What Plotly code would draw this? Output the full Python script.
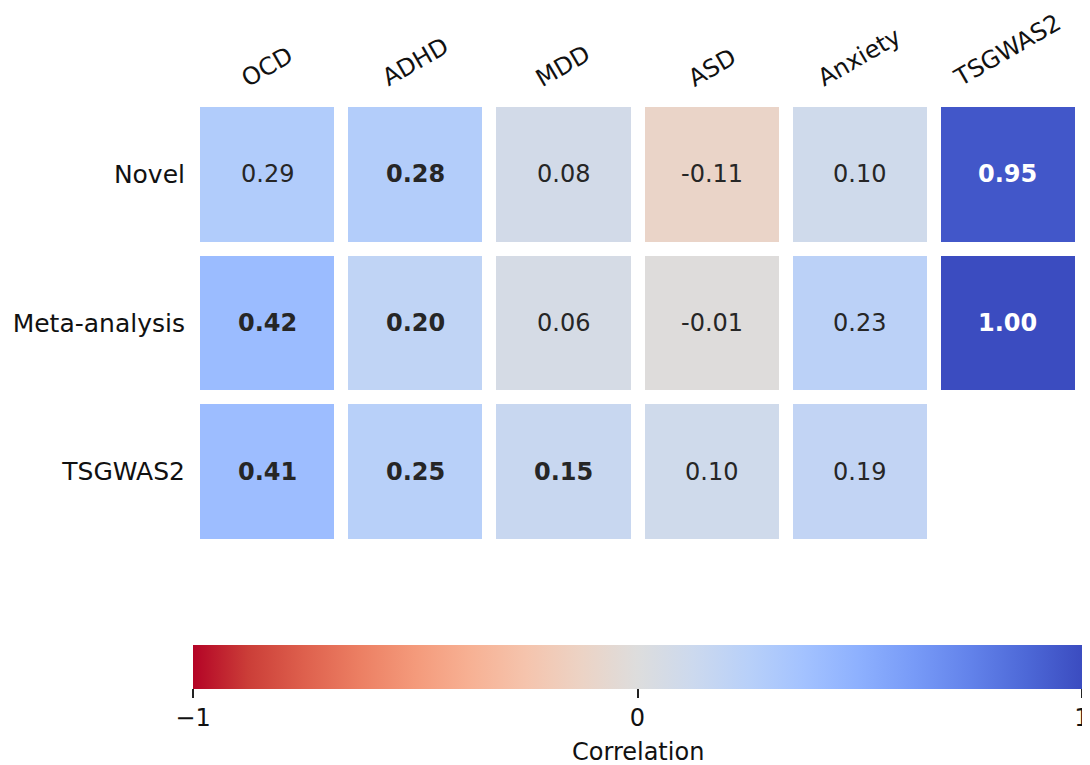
import plotly.graph_objects as go

# data
traits = ["OCD", "ADHD", "MDD", "ASD", "Anxiety", "TSGWAS2"]
sources = ["Novel", "Meta-analysis", "TSGWAS2"]
novel = [0.29, 0.28, 0.08, -0.11, 0.10, 0.95]
meta = [0.42, 0.20, 0.06, -0.01, 0.23, 1.00]
tsgwas2 = [0.41, 0.25, 0.15, 0.10, 0.19, None]
# which cells are significant (printed in bold)
novel_sig = [False, True, False, False, False, True]
meta_sig = [True, True, False, False, False, True]
tsgwas2_sig = [True, True, True, False, False, False]

z = [novel, meta, tsgwas2]
sig = [novel_sig, meta_sig, tsgwas2_sig]

# matplotlib coolwarm, reversed (-1 red -> 1 blue)
coolwarm = [
    (59, 76, 192), (77, 104, 215), (98, 130, 234), (119, 154, 247),
    (141, 176, 254), (163, 194, 255), (184, 208, 249), (204, 217, 238),
    (221, 221, 221), (236, 211, 197), (245, 196, 173), (247, 177, 148),
    (244, 154, 123), (236, 127, 99), (222, 96, 77), (203, 62, 56),
    (180, 4, 38),
]
n = len(coolwarm) - 1
cscale = [[1 - i / n, "rgb(%d,%d,%d)" % c] for i, c in enumerate(coolwarm)][::-1]

FONT = "DejaVu Sans"

heat = go.Heatmap(
    z=z, x=traits, y=sources,
    zmin=-1, zmax=1,
    colorscale=cscale,
    xgap=14, ygap=14,
    hoverongaps=False,
    colorbar=dict(
        orientation="h",
        x=0, xanchor="left", xpad=0,
        y=-0.222, yanchor="top", ypad=0,
        len=1, lenmode="fraction",
        thickness=44,
        outlinewidth=0,
        ticks="outside", ticklen=9, tickwidth=2, tickcolor="#222",
        tickvals=[-1, 0, 1], ticktext=["\u22121", "0", "1"],
        tickfont=dict(family=FONT, size=24, color="#111"),
    ),
)

fig = go.Figure(heat)

annotations = []
for r, row in enumerate(z):
    for c, v in enumerate(row):
        if v is None:
            continue
        txt = "%.2f" % v
        if sig[r][c]:
            txt = "<b>" + txt + "</b>"
        annotations.append(dict(
            x=traits[c], y=sources[r], text=txt, showarrow=False,
            font=dict(family=FONT, size=24, color="white" if v > 0.8 else "#262626"),
        ))

for t in traits:
    annotations.append(dict(
        x=t, y=1, xref="x", yref="paper", text=t, showarrow=False,
        textangle=-30, xanchor="center", yanchor="bottom", yshift=5,
        font=dict(family=FONT, size=24, color="#111"),
    ))

# colorbar title
annotations.append(dict(
    x=0.5, y=-0.462, xref="paper", yref="paper", text="Correlation",
    showarrow=False, xanchor="center", yanchor="middle",
    font=dict(family=FONT, size=24, color="#111"),
))

# page body adds an 8px offset, so the figure is 8px smaller than the window
fig.update_layout(
    width=1082, height=757,
    margin=dict(l=185, r=8, t=92, b=219, autoexpand=False),
    plot_bgcolor="white", paper_bgcolor="white",
    font=dict(family=FONT, size=24, color="#111"),
    annotations=annotations,
    xaxis=dict(showticklabels=False, showgrid=False, zeroline=False, ticks=""),
    yaxis=dict(autorange="reversed", showgrid=False, zeroline=False, ticks="",
               ticklabelstandoff=7, tickfont=dict(family=FONT, size=25, color="#111")),
)

fig.write_html("out.html")
